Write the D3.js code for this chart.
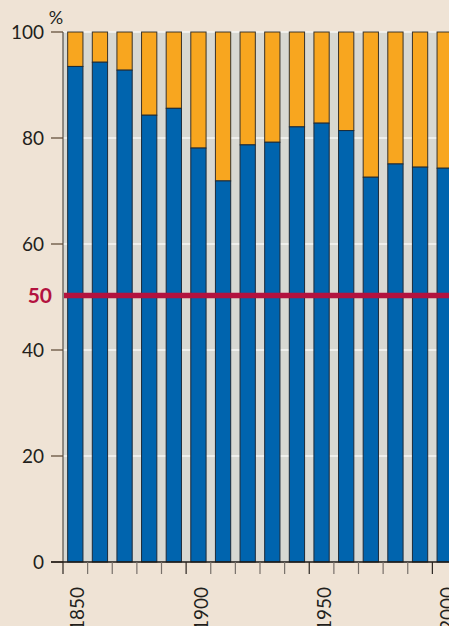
<!DOCTYPE html>
<html>
<head>
<meta charset="utf-8">
<script src="https://cdn.jsdelivr.net/npm/d3@7"></script>
<style>
  html, body { margin: 0; padding: 0; background: #efe3d5; }
  svg { display: block; }
</style>
</head>
<body>
<div id="viz"></div>
<script>
// share of the total (%), blue part of each bar; the rest up to 100 is orange
const years = [1850, 1860, 1870, 1880, 1890, 1900, 1910, 1920, 1930, 1940, 1950, 1960, 1970, 1980, 1990, 2000];
const blueShare = [93.5, 94.3, 92.8, 84.3, 85.6, 78.1, 71.9, 78.7, 79.2, 82.1, 82.8, 81.4, 72.6, 75.1, 74.5, 74.3];
const yTicks = [0, 20, 40, 60, 80, 100];
const yearLabels = [1850, 1900, 1950, 2000];
const refLine = 50;

const width = 449, height = 626;
const plotLeft = 63, plotTop = 32, plotBottom = 562;

const svg = d3.select("#viz").append("svg")
  .attr("width", width)
  .attr("height", height);

const x = d3.scaleBand()
  .domain(years)
  .range([plotLeft, plotLeft + 16 * 24.625])
  .paddingInner(0.38)
  .paddingOuter(0.19);

const y = d3.scaleLinear()
  .domain([0, 100])
  .range([plotBottom, plotTop]);

const gap = (x.step() - x.bandwidth()) / 2;

// plot background
svg.append("rect")
  .attr("x", plotLeft)
  .attr("y", y(100))
  .attr("width", width - plotLeft)
  .attr("height", y(0) - y(100))
  .attr("fill", "#d8d8d2");

// white gridlines
svg.append("g")
  .selectAll("line")
  .data(yTicks.filter(d => d > 0))
  .enter().append("line")
  .attr("x1", plotLeft)
  .attr("x2", width)
  .attr("y1", d => y(d))
  .attr("y2", d => y(d))
  .attr("stroke", "#f7f7f4")
  .attr("stroke-width", 1.5);

// bars
const bars = svg.append("g")
  .selectAll("g")
  .data(years.map((yr, i) => ({ year: yr, v: blueShare[i] })))
  .enter().append("g");

bars.append("rect")
  .attr("x", d => x(d.year))
  .attr("y", y(100))
  .attr("width", x.bandwidth())
  .attr("height", d => y(d.v) - y(100))
  .attr("fill", "#f8a61f")
  .attr("stroke", "#3a3328")
  .attr("stroke-width", 1);

bars.append("rect")
  .attr("x", d => x(d.year))
  .attr("y", d => y(d.v))
  .attr("width", x.bandwidth())
  .attr("height", d => y(0) - y(d.v))
  .attr("fill", "#0064ae")
  .attr("stroke", "#1c2a38")
  .attr("stroke-width", 1);

// 50 % line
svg.append("line")
  .attr("x1", plotLeft + 1)
  .attr("x2", width)
  .attr("y1", y(refLine) - 1.5)
  .attr("y2", y(refLine) - 1.5)
  .attr("stroke", "#b3123f")
  .attr("stroke-width", 5.5);

svg.append("text")
  .attr("x", 52)
  .attr("y", y(refLine) - 1.5)
  .attr("dy", "0.36em")
  .attr("text-anchor", "end")
  .attr("font-family", "Lato, 'Open Sans', sans-serif")
  .attr("font-weight", "bold")
  .attr("font-size", 21)
  .attr("fill", "#b3123f")
  .text(refLine);

// y axis
const yAxis = svg.append("g");
yAxis.append("line")
  .attr("x1", plotLeft).attr("x2", plotLeft)
  .attr("y1", y(100)).attr("y2", y(0))
  .attr("stroke", "#55504a")
  .attr("stroke-width", 1.2);

yAxis.selectAll(".tick")
  .data(yTicks)
  .enter().append("line")
  .attr("x1", 51)
  .attr("x2", plotLeft)
  .attr("y1", d => y(d))
  .attr("y2", d => y(d))
  .attr("stroke", "#5a4632")
  .attr("stroke-width", 1.2);

yAxis.selectAll("text.ylab")
  .data(yTicks)
  .enter().append("text")
  .attr("class", "ylab")
  .attr("x", 44)
  .attr("y", d => y(d))
  .attr("dy", "0.36em")
  .attr("text-anchor", "end")
  .attr("font-family", "Lato, 'Open Sans', sans-serif")
  .attr("font-size", 19)
  .attr("fill", "#231f1c")
  .text(d => d);

svg.append("text")
  .attr("x", 56)
  .attr("y", 24)
  .attr("text-anchor", "middle")
  .attr("font-family", "Lato, 'Open Sans', sans-serif")
  .attr("font-size", 18)
  .attr("fill", "#231f1c")
  .text("%");

// x axis
svg.append("line")
  .attr("x1", 51)
  .attr("x2", width)
  .attr("y1", y(0))
  .attr("y2", y(0))
  .attr("stroke", "#1e1a16")
  .attr("stroke-width", 1.3);

svg.append("g")
  .selectAll("line")
  .data(years)
  .enter().append("line")
  .attr("x1", d => x(d) - gap)
  .attr("x2", d => x(d) - gap)
  .attr("y1", y(0))
  .attr("y2", y(0) + 12)
  .attr("stroke", d => yearLabels.includes(d) ? "#2a2520" : "#77706a")
  .attr("stroke-width", 1.2);

svg.append("g")
  .selectAll("text")
  .data(yearLabels)
  .enter().append("text")
  .attr("transform", d => `translate(${x(d) + x.bandwidth() / 2 + 2.5},587) rotate(-90)`)
  .attr("dy", "0.35em")
  .attr("text-anchor", "end")
  .attr("font-family", "Lato, 'Open Sans', sans-serif")
  .attr("font-size", 19)
  .attr("fill", "#231f1c")
  .text(d => d);
</script>
</body>
</html>
